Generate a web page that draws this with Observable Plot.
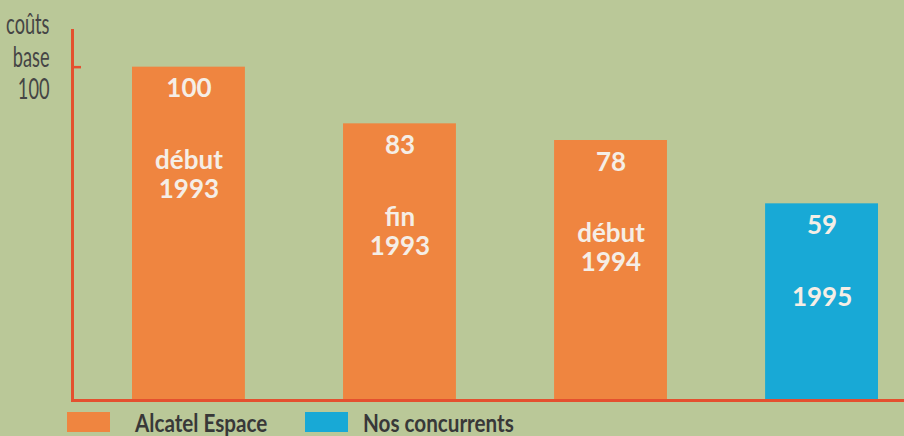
<!DOCTYPE html>
<html><head><meta charset="utf-8">
<script src="https://cdn.jsdelivr.net/npm/d3@7"></script>
<script src="https://cdn.jsdelivr.net/npm/@observablehq/plot@0.6"></script>
<style>
html,body{margin:0;padding:0;background:#bac898;width:904px;height:436px;overflow:hidden}
#wrap{position:relative;width:904px;height:436px}
#chart{position:absolute;left:0;top:0}
#legend{position:absolute;left:0;top:408px;width:904px;height:28px;font-family:Lato,"Open Sans",sans-serif;font-weight:700;font-size:24px;color:#383838}
.sw{position:absolute;top:4px;width:43px;height:20px}
.lb{position:absolute;top:2px;white-space:nowrap;line-height:26px;transform:scaleX(0.86);transform-origin:0 50%}
</style></head><body><div id="wrap"><div id="chart"></div><div id="legend"></div></div>
<script>
const periods = ["début\n1993", "fin\n1993", "début\n1994", "1995"];
const values = [100, 83, 78, 59];
const series = ["Alcatel Espace", "Alcatel Espace", "Alcatel Espace", "Nos concurrents"];
const seriesNames = ["Alcatel Espace", "Nos concurrents"];
const seriesColors = ["#ef8540", "#18a9d6"];
const yLabel = ["coûts", "base", "100"];
const yTicks = [100];

const red = "#e4502f";
const barText = "#f5eee6";
const data = periods.map((p, i) => ({period: p, value: values[i], series: series[i]}));

const chart = Plot.plot({
  width: 904, height: 408,
  marginTop: 30, marginBottom: 8, marginLeft: 72, marginRight: 0,
  style: {background: "transparent", overflow: "visible"},
  x: {type: "band", domain: periods, range: [132, 878], paddingInner: 0.465, paddingOuter: 0, round: false, axis: null},
  y: {domain: [0, 111], axis: null},
  color: {domain: seriesNames, range: seriesColors},
  marks: [
    Plot.barY(data, {x: "period", y: "value", fill: "series"}),
    Plot.text(data, {x: "period", y: "value", text: d => String(d.value), dy: 22, lineAnchor: "middle",
      fill: barText, fontSize: 26, fontWeight: 700, fontFamily: "Lato, 'Open Sans', sans-serif"}),
    Plot.text(data, {x: "period", y: "value", text: "period", lineAnchor: "top", dy: 81, lineHeight: 1.12,
      fill: barText, fontSize: 26, fontWeight: 700, fontFamily: "Lato, 'Open Sans', sans-serif"}),
    Plot.frame({anchor: "left", stroke: red, strokeWidth: 3}),
    Plot.ruleY([0], {stroke: red, strokeWidth: 3}),
    Plot.axisY(yTicks, {anchor: "left", tickSize: -9, stroke: red, strokeWidth: 2.5, tickFormat: () => "", label: null}),
    Plot.text([yLabel.join("\n")], {frameAnchor: "top-left", dx: -23, dy: -19, textAnchor: "end", lineAnchor: "top",
      lineHeight: 1.15, fontSize: 28, fontWeight: 400, fill: "#454545",
      fontFamily: "Lato, 'Open Sans', sans-serif"})
  ]
});
document.getElementById("chart").appendChild(chart);

// condense the y-axis caption (the original uses a condensed face)
chart.querySelectorAll("text").forEach(t => {
  if (t.textContent.includes(yLabel[0])) {
    const tr = t.getAttribute("transform") || "";
    t.setAttribute("transform", tr + " scale(0.65,1)");
  }
});

const legendPos = [[67, 135], [305, 363]];
const legend = document.getElementById("legend");
seriesNames.forEach((name, i) => {
  const sw = document.createElement("div");
  sw.className = "sw";
  sw.style.left = legendPos[i][0] + "px";
  sw.style.background = seriesColors[i];
  legend.appendChild(sw);
  const lb = document.createElement("div");
  lb.className = "lb";
  lb.style.left = legendPos[i][1] + "px";
  lb.textContent = name;
  legend.appendChild(lb);
});
</script></body></html>
